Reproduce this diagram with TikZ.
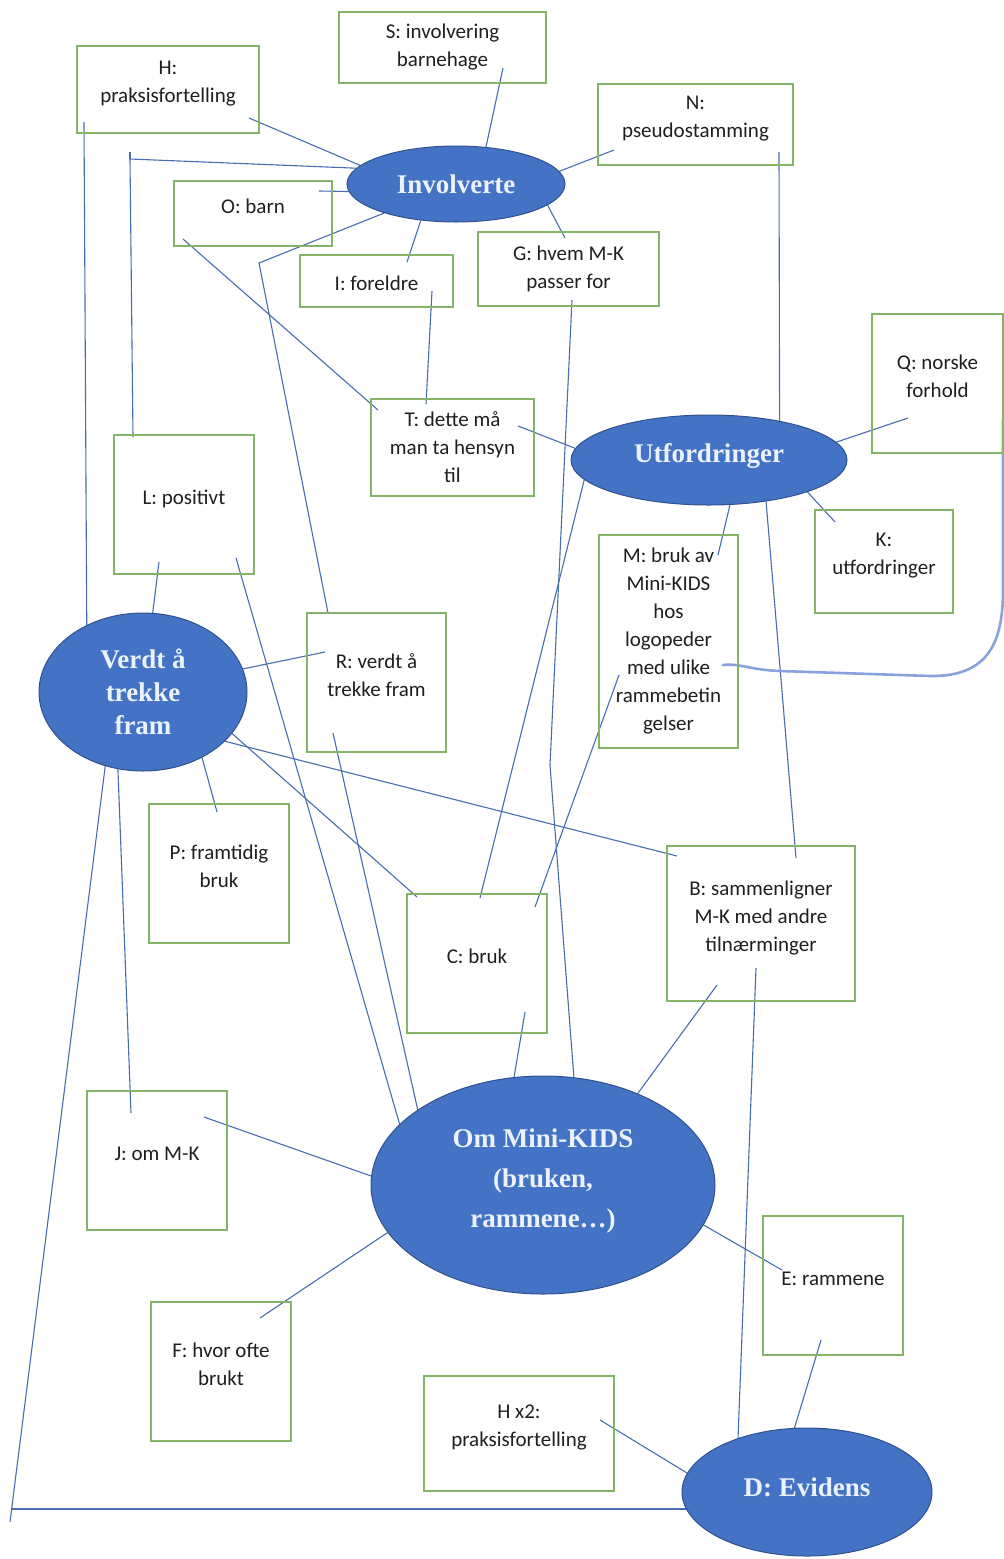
\documentclass[tikz,border=0pt]{standalone}
\usepackage{fontspec}
\setmainfont{Carlito}
\newfontfamily\ellfont{Liberation Serif}
\usetikzlibrary{shapes.geometric}
\pgfdeclarelayer{bg}
\pgfsetlayers{bg,main}
\definecolor{boxgreen}{RGB}{132,180,104}
\definecolor{ellfill}{RGB}{68,114,196}
\definecolor{elldraw}{RGB}{47,82,143}
\definecolor{linkblue}{RGB}{72,108,176}
\definecolor{handblue}{RGB}{135,162,220}
\definecolor{elltext}{RGB}{236,242,252}
\begin{document}
\begin{tikzpicture}[x=1pt,y=-1pt,
  box/.style={draw=boxgreen, line width=1.3pt, inner sep=0pt, align=center, text=black!88, font=\fontsize{21}{28}\selectfont, execute at begin node={\rule{0pt}{19pt}}},
  topbox/.style={draw=boxgreen, line width=1.3pt, inner sep=0pt, align=center, text=black!88, font=\fontsize{21}{28}\selectfont, execute at begin node={\rule{0pt}{15pt}}, execute at end node={\rule[-15pt]{0pt}{0pt}}},
  ell/.style={ellipse, draw=elldraw, line width=1pt, fill=ellfill, inner sep=0pt, align=center, text=elltext},
  link/.style={draw=linkblue, line width=1.1pt},
  hand/.style={draw=handblue, line width=2.6pt, line cap=round, line join=round}
]
\useasboundingbox (0,0) rectangle (1004,1559);

% boxes
\node[topbox, minimum width=182, minimum height=87] (H) at (168,89.5) {H:\\praksisfortelling};
\node[box, minimum width=207, minimum height=71] (S) at (442.5,47.5) {S: involvering\\barnehage};
\node[topbox, minimum width=195, minimum height=81] (N) at (695.5,124.5) {N:\\pseudostamming};
\node[topbox, minimum width=158, minimum height=65] (O) at (253,213.5) {O: barn};
\node[box, minimum width=153, minimum height=52] (I) at (376.5,281) {I: foreldre};
\node[box, minimum width=181, minimum height=74] (G) at (568.5,269) {G: hvem M-K\\passer for};
\node[box, minimum width=163, minimum height=97] (T) at (452.5,447.5) {T: dette må\\man ta hensyn\\til};
\node[topbox, minimum width=131, minimum height=139] (Q) at (937.5,383.5) {Q: norske\\forhold};
\node[topbox, minimum width=140, minimum height=139] (L) at (184,504.5) {L: positivt};
\node[topbox, minimum width=138, minimum height=103] (K) at (884,561.5) {K:\\utfordringer};
\node[box, minimum width=139, minimum height=213] (M) at (668.5,641.5) {M: bruk av\\Mini-KIDS\\hos\\logopeder\\med ulike\\rammebetin\\gelser};
\node[topbox, minimum width=139, minimum height=139] (R) at (376.5,682.5) {R: verdt å\\trekke fram};
\node[topbox, minimum width=140, minimum height=139] (P) at (219,873.5) {P: framtidig\\bruk};
\node[topbox, minimum width=188, minimum height=155] (B) at (761,923.5) {B: sammenligner\\M-K med andre\\tilnærminger};
\node[topbox, minimum width=140, minimum height=139] (C) at (477,963.5) {C: bruk};
\node[topbox, minimum width=140, minimum height=139] (J) at (157,1160.5) {J: om M-K};
\node[topbox, minimum width=140, minimum height=139] (E) at (833,1285.5) {E: rammene};
\node[topbox, minimum width=140, minimum height=139] (F) at (221,1371.5) {F: hvor ofte\\brukt};
\node[topbox, minimum width=190, minimum height=115] (Hx2) at (519,1433.5) {H x2:\\praksisfortelling};

% ellipses
\node[ell, minimum width=218, minimum height=76, font=\ellfont\bfseries\fontsize{27}{34}\selectfont] (Inv) at (456,184) {Involverte};
\node[ell, minimum width=276, minimum height=90, font=\ellfont\bfseries\fontsize{27}{34}\selectfont, execute at end node={\rule[-15pt]{0pt}{0pt}}] (Utf) at (709,460) {Utfordringer};
\node[ell, minimum width=208, minimum height=158, font=\ellfont\bfseries\fontsize{27}{33}\selectfont, execute at begin node={\rule{0pt}{27pt}}] (Verdt) at (143,692) {Verdt å\\trekke\\fram};
\node[ell, minimum width=344, minimum height=218, font=\ellfont\bfseries\fontsize{27}{40}\selectfont, execute at end node={\rule[-13pt]{0pt}{0pt}}] (Om) at (543,1185) {Om Mini-KIDS\\(bruken,\\rammene…)};
\node[ell, minimum width=250, minimum height=128, font=\ellfont\bfseries\fontsize{27}{34}\selectfont, execute at end node={\rule[-9pt]{0pt}{0pt}}] (D) at (807,1492) {D: Evidens};

% bends
\coordinate (Lbend) at (130,159);
\coordinate (Ltick) at (130,152);
\coordinate (Rbend) at (259,263);
\coordinate (Gbend) at (550,765);
\coordinate (loopend) at (10,1522);
\coordinate (loopjoin) at (11.6,1509);

\begin{pgfonlayer}{bg}
\draw[link] ([shift={(81,28.5)}]H.center) -- (Inv.169);
\draw[link] ([shift={(-84,32.5)}]H.center) -- (Verdt.130);
\draw[link] (Inv.171) -- (Lbend) -- ([shift={(-51,-67.5)}]L.center);
\draw[link] (Ltick) -- (Lbend);
\draw[link] ([shift={(66,-22.5)}]O.center) -- (Inv.184);
\draw[link] ([shift={(-70,25.5)}]O.center) -- ([shift={(-74.5,-37.5)}]T.center);
\draw[link] (Inv.202) -- (Rbend) -- ([shift={(-48.5,-69.5)}]R.center);
\draw[link] (Inv.226) -- ([shift={(30.5,-19)}]I.center);
\draw[link] ([shift={(60.5,20.5)}]S.center) -- (Inv.51);
\draw[link] (Inv.7) -- ([shift={(-81.5,25.5)}]N.center);
\draw[link] (Inv.347) -- ([shift={(-3.5,-31)}]G.center);
\draw[link] ([shift={(83.5,27.5)}]N.center) -- (Utf.29);
\draw[link] ([shift={(55.5,10)}]I.center) -- ([shift={(-26.5,-43.5)}]T.center);
\draw[link] ([shift={(65.5,-21.5)}]T.center) -- (Utf.175);
\draw[link] ([shift={(-29.5,34.5)}]Q.center) -- (Utf.8);
\draw[link] (Utf.342) -- ([shift={(-49,-39.5)}]K.center);
\draw[link] (Utf.295) -- ([shift={(49.5,-86.5)}]M.center);
\draw[link] (Utf.189) -- ([shift={(3,-65.5)}]C.center);
\draw[link] ([shift={(3.5,31)}]G.center) -- (Gbend) -- (Om.74);
\draw[link] ([shift={(-49.5,33.5)}]M.center) -- ([shift={(58,-56.5)}]C.center);
\draw[link] (Utf.324) -- ([shift={(35,-65.5)}]B.center);
\draw[link] ([shift={(-25,57.5)}]L.center) -- (Verdt.83);
\draw[link] ([shift={(52,53.5)}]L.center) -- (Om.157);
\draw[link] ([shift={(-43.5,50.5)}]R.center) -- (Om.149);
\draw[link] (Verdt.13) -- ([shift={(-51.5,-30.5)}]R.center);
\draw[link] (Verdt.312) -- ([shift={(-2,-61.5)}]P.center);
\draw[link] (Verdt.335) -- ([shift={(-60,-66.5)}]C.center);
\draw[link] (Verdt.329) -- ([shift={(-84,-67.5)}]B.center);
\draw[link] (Verdt.252) -- ([shift={(-26,-47.5)}]J.center);
\draw[link] (Verdt.243) -- (loopend);
\draw[link] (loopjoin) -- (loopjoin -| D.center);
\draw[link] ([shift={(47,-43.5)}]J.center) -- (Om.177);
\draw[link] ([shift={(39,-53.5)}]F.center) -- (Om.197);
\draw[link] ([shift={(48,48.5)}]C.center) -- (Om.105);
\draw[link] ([shift={(-44,61.5)}]B.center) -- (Om.44);
\draw[link] ([shift={(-5,44.5)}]B.center) -- (D.142);
\draw[link] (Om.346) -- ([shift={(-51,-15.5)}]E.center);
\draw[link] ([shift={(-12,54.5)}]E.center) -- (D.101);
\draw[link] ([shift={(81,-13.5)}]Hx2.center) -- (D.171);
\draw[hand] ([shift={(54.5,23.5)}]M.center) .. controls (740,663) and (750,670) .. (780,671) -- (930,676) .. controls (990,677) and (1003,640) .. (1003,590) -- ([shift={(65.5,36.5)}]Q.center);
\end{pgfonlayer}
\end{tikzpicture}
\end{document}
